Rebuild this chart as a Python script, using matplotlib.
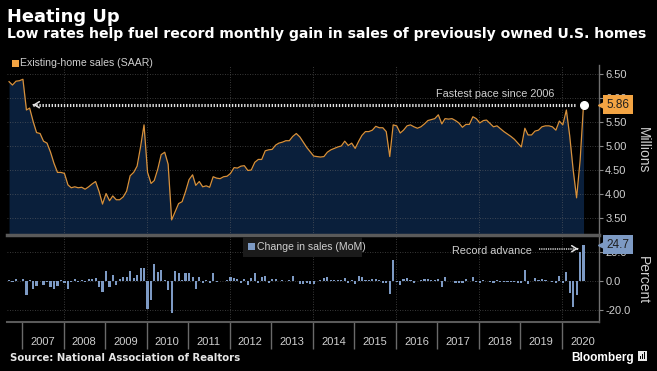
import matplotlib
matplotlib.use("Agg")
import matplotlib.pyplot as plt
import matplotlib.dates as mdates
import matplotlib.transforms as mtransforms
from matplotlib.patches import Rectangle
from matplotlib.ticker import FuncFormatter
import numpy as np
import pandas as pd

plt.rcParams["font.family"] = ["Liberation Sans", "DejaVu Sans"]

# Existing-home sales, SAAR (millions), Sep 2006 - Jul 2020
sales = [
    6.34, 6.27, 6.35, 6.36, 6.39, 5.75, 5.79, 5.51, 5.28, 5.26,
    5.10, 5.06, 4.87, 4.64, 4.45, 4.45, 4.43, 4.19, 4.13, 4.15,
    4.13, 4.14, 4.10, 4.15, 4.21, 4.26, 4.05, 3.79, 4.01, 3.86,
    3.96, 3.88, 3.88, 3.94, 4.06, 4.38, 4.45, 4.58, 4.99, 5.44,
    4.45, 4.22, 4.28, 4.52, 4.82, 4.87, 4.62, 3.46, 3.63, 3.80,
    3.84, 4.05, 4.30, 4.40, 4.18, 4.26, 4.15, 4.17, 4.14, 4.36,
    4.33, 4.32, 4.36, 4.37, 4.43, 4.55, 4.54, 4.58, 4.59, 4.49,
    4.50, 4.66, 4.72, 4.72, 4.90, 4.92, 4.93, 5.02, 5.06, 5.08,
    5.11, 5.11, 5.20, 5.26, 5.19, 5.08, 4.97, 4.88, 4.79, 4.78,
    4.77, 4.78, 4.87, 4.92, 4.95, 4.98, 5.00, 5.10, 5.01, 5.06,
    4.95, 5.10, 5.22, 5.30, 5.30, 5.33, 5.41, 5.38, 5.38, 5.30,
    4.78, 5.44, 5.42, 5.27, 5.33, 5.42, 5.44, 5.40, 5.37, 5.40,
    5.46, 5.53, 5.55, 5.57, 5.65, 5.46, 5.57, 5.56, 5.57, 5.53,
    5.48, 5.39, 5.45, 5.45, 5.61, 5.57, 5.48, 5.53, 5.54, 5.47,
    5.40, 5.42, 5.36, 5.30, 5.25, 5.20, 5.14, 5.06, 4.98, 5.37,
    5.23, 5.23, 5.31, 5.33, 5.40, 5.42, 5.42, 5.40, 5.33, 5.52,
    5.44, 5.75, 5.22, 4.50, 3.92, 4.70, 5.86,
]

# Change in sales, month over month (%)
mom_change = [
    0.7, -0.9, 1.3, 0.2, 1.3, -9.8, 0.9, -5.3, -3.3, -0.3,
    -2.7, -0.9, -3.8, -5.3, -3.1, 0.9, -1.6, -5.3, -0.9, 1.3,
    -0.9, 0.9, -0.9, 1.6, 1.6, 2.0, -3.8, -7.6, 6.7, -4.4,
    4.0, -2.7, 1.1, 2.7, 2.7, 6.7, 2.0, 4.0, 8.7, 8.7,
    -18.7, -12.7, 11.8, 6.3, 7.4, 0.5, -6.0, -21.8, 6.7, 5.2,
    0.8, 5.6, 5.2, 2.5, -5.6, 2.5, -1.6, 0.4, -1.1, 5.2,
    -0.5, -0.3, 0.3, 0.7, 2.7, 2.0, 1.1, -1.1, 1.1, -2.7,
    1.8, 5.2, -1.1, 2.9, 3.4, -1.1, 1.6, 1.3, 0.3, 0.9,
    0.3, 0.5, 3.4, 0.3, -2.0, -2.0, -1.6, -2.0, -2.0, 0.2,
    0.9, 2.0, 2.5, 0.6, 0.6, 0.6, 0.4, 2.2, -1.6, 1.0,
    -2.2, 3.4, 2.4, 0.9, 0.9, 1.6, 1.5, 0.5, -1.1, -1.6,
    -9.0, 14.0, -0.7, -2.7, 1.6, 2.2, 0.4, -1.1, -0.3, 0.9,
    1.3, 1.1, 0.4, 0.4, 1.6, -3.8, 2.9, 0.3, 0.2, -1.1,
    -1.1, -1.3, 1.1, 0.2, 2.9, -0.9, -1.6, 0.9, 0.2, -0.7,
    -1.6, 0.4, -0.7, -0.7, -0.6, -0.8, -0.9, -1.6, -1.4, 7.6,
    -2.2, -0.2, 1.8, 0.4, 1.3, 0.4, 0.2, -0.4, -1.6, 3.6,
    -1.6, 6.3, -8.0, -17.5, -9.5, 19.8, 24.7,
]

years = list(range(2007, 2021))
sales_ticks = [3.5, 4.0, 4.5, 5.0, 5.5, 6.0, 6.5]
pct_ticks = [-20, 0, 20]

ORANGE = "#f3a443"
LINE = "#d8913b"
NAVY = "#0a1f3b"
BARBLUE = "#7d9ac4"
GRID = "#6a6a6a"
TXT = "#cfcfcf"

months = pd.date_range("2006-09-01", periods=len(sales), freq="MS") + pd.Timedelta(days=8)

fig = plt.figure(figsize=(6.57, 3.71), dpi=100, facecolor="black")
ax = fig.add_axes([7 / 657, 136 / 371, 592 / 657, 170 / 371], facecolor="black")
axb = fig.add_axes([7 / 657, 49 / 371, 592 / 657, 87 / 371], facecolor="black", sharex=ax)

# --- top panel: sales level
ax.fill_between(months, sales, 3.0, color=NAVY, lw=0, zorder=1)
ax.plot(months, sales, color=LINE, lw=0.9, zorder=3)
ax.plot(months[-1], sales[-1], "o", color="white", ms=5.5, zorder=6, clip_on=False)
ax.set_ylim(3.146, 6.6875)
for v in sales_ticks:
    ax.axhline(v, color=GRID, lw=0.6, ls=(0, (1, 2)), alpha=0.7, zorder=2)

# --- bottom panel: monthly change
axb.bar(months, mom_change, width=19, color=BARBLUE, zorder=3)
axb.set_ylim(-27.8, 31.2)
for v in pct_ticks:
    axb.axhline(v, color=GRID, lw=0.6, ls=(0, (1, 2)), alpha=0.7, zorder=1)

for a in (ax, axb):
    for yr in years[1::2]:
        a.axvline(pd.Timestamp(f"{yr}-01-01"), color=GRID, lw=0.6, ls=(0, (1, 2)),
                  alpha=0.7, zorder=2)
    a.yaxis.tick_right()
    a.tick_params(axis="y", direction="out", length=3, width=0.8, color="#8a8a8a",
                  labelcolor=TXT, labelsize=8, pad=1.5)
    a.spines["left"].set_visible(False)
    a.spines["right"].set_color("#707070")
    a.spines["right"].set_linewidth(1)

ax.set_yticks(sales_ticks)
ax.yaxis.set_major_formatter(FuncFormatter(lambda v, p: f"{v:.2f}"))
axb.set_yticks(pct_ticks)
axb.yaxis.set_major_formatter(FuncFormatter(lambda v, p: f"{v:.1f}"))

ax.spines["top"].set_visible(False)
ax.spines["bottom"].set_visible(False)
axb.spines["top"].set_color("#5a5a5a")
axb.spines["top"].set_linewidth(2.5)
axb.spines["bottom"].set_color("#5a5a5a")
axb.spines["bottom"].set_linewidth(1.5)

# x axis: year separators as long ticks, labels centred mid-year
axb.set_xlim(pd.Timestamp("2006-08-22"), pd.Timestamp("2020-11-22"))
axb.xaxis.set_major_locator(mdates.YearLocator(1, month=1, day=1))
axb.xaxis.set_minor_locator(mdates.YearLocator(1, month=7, day=1))
axb.xaxis.set_major_formatter(plt.NullFormatter())
axb.xaxis.set_minor_formatter(mdates.DateFormatter("%Y"))
axb.tick_params(axis="x", which="major", length=19.5, width=1, color="#6a6a6a")
axb.tick_params(axis="x", which="minor", length=0, labelsize=8, labelcolor=TXT, pad=10.5)
ax.tick_params(axis="x", which="both", bottom=False, labelbottom=False)


def dotted_arrow(a, x0, x1, y, lw):
    # dotted shaft plus a small open head at x1
    a.plot([x0, x1], [y, y], color="#e2e2e2", lw=lw, ls=(0, (0.45, 0.55)),
           solid_capstyle="butt", zorder=5)
    a.annotate("", xy=(x1, y), xytext=(x0, y),
               arrowprops=dict(arrowstyle="-", alpha=0), zorder=5)
    step = pd.Timedelta(days=6) if x1 > x0 else -pd.Timedelta(days=6)
    a.annotate("", xy=(x1, y), xytext=(x1 - step, y),
               arrowprops=dict(arrowstyle="->,head_length=0.35,head_width=0.22",
                               color="#e2e2e2", lw=1.1, shrinkA=0, shrinkB=0),
               zorder=5)


# --- annotations
dotted_arrow(ax, pd.Timestamp("2020-04-24"), pd.Timestamp("2007-04-08"), sales[-1], 2.2)
ax.text(pd.Timestamp("2018-05-26"), 6.027, "Fastest pace since 2006", ha="center",
        va="baseline", fontsize=7.8, color=TXT, zorder=5)

dotted_arrow(axb, pd.Timestamp("2019-06-12"), pd.Timestamp("2020-05-21"), 21.9, 1.3)
axb.text(pd.Timestamp("2019-04-10"), 18.3, "Record advance", ha="right",
         va="baseline", fontsize=7.8, color=TXT, zorder=5)

# last-value tags on the right axis
for a, val, fmt, col in ((ax, sales[-1], "{:.2f}", ORANGE),
                         (axb, mom_change[-1], "{:.1f}", BARBLUE)):
    tr = a.get_yaxis_transform()
    a.plot([1.0], [val], marker="<", ms=7, color=col, clip_on=False, zorder=9,
           transform=mtransforms.offset_copy(tr, fig=fig, x=3, units="points"))
    a.annotate(fmt.format(val), xy=(1, val), xycoords=tr, xytext=(5.5, 0),
               textcoords="offset points", ha="left", va="center", fontsize=8.5,
               color="#1e1e1e", annotation_clip=False, zorder=10,
               bbox=dict(boxstyle="square,pad=0.3", fc=col, ec="none"))

# legend of the bottom panel
axb.add_patch(Rectangle((0.399, 0.751), 0.201, 0.229, transform=axb.transAxes,
                        fc="#1b1b1b", ec="none", zorder=4))
axb.add_patch(Rectangle((0.407, 0.828), 0.0118, 0.080, transform=axb.transAxes,
                        fc=BARBLUE, ec="none", zorder=5))
axb.text(0.423, 0.866, "Change in sales (MoM)", transform=axb.transAxes, ha="left",
         va="center", fontsize=7.6, color=TXT, zorder=5)

# --- figure texts
fig.text(7 / 657, 1 - 21.7 / 371, "Heating Up", family="DejaVu Sans", fontsize=12.9,
         fontweight="bold", color="white", va="baseline")
fig.text(7 / 657, 1 - 38.3 / 371,
         "Low rates help fuel record monthly gain in sales of previously owned U.S. homes",
         family="DejaVu Sans", fontsize=10.1, fontweight="bold", color="white", va="baseline")
fig.patches.append(Rectangle((12 / 657, 1 - 66.7 / 371), 6.5 / 657, 6.5 / 371,
                             transform=fig.transFigure, fc=ORANGE, ec="none"))
fig.text(20 / 657, 1 - 66.5 / 371, "Existing-home sales (SAAR)", fontsize=7.6,
         color=TXT, va="baseline")
fig.text(643 / 657, 1 - 150 / 371, "Millions", rotation=270, ha="center", va="center",
         fontsize=10, color=TXT)
fig.text(643 / 657, 1 - 280 / 371, "Percent", rotation=270, ha="center", va="center",
         fontsize=10, color=TXT)
fig.text(10 / 657, 1 - 360.7 / 371, "Source: National Association of Realtors",
         family="DejaVu Sans", fontsize=7.3, fontweight="bold", color="#e6e6e6",
         va="baseline")
fig.text(634 / 657, 1 - 360.7 / 371, "Bloomberg", fontsize=8.6, fontweight="bold",
         color="white", ha="right", va="baseline")
fig.patches.append(Rectangle((638 / 657, 1 - 361 / 371), 9 / 657, 10 / 371,
                             transform=fig.transFigure, fc="#e8e8e8", ec="none"))
for k in range(3):
    fig.patches.append(Rectangle(((640 + 2.2 * k) / 657, 1 - 359 / 371), 1 / 657,
                                 (3 + 2 * k) / 371, transform=fig.transFigure,
                                 fc="black", ec="none"))

fig.savefig("out.png", dpi=100, facecolor="black")
